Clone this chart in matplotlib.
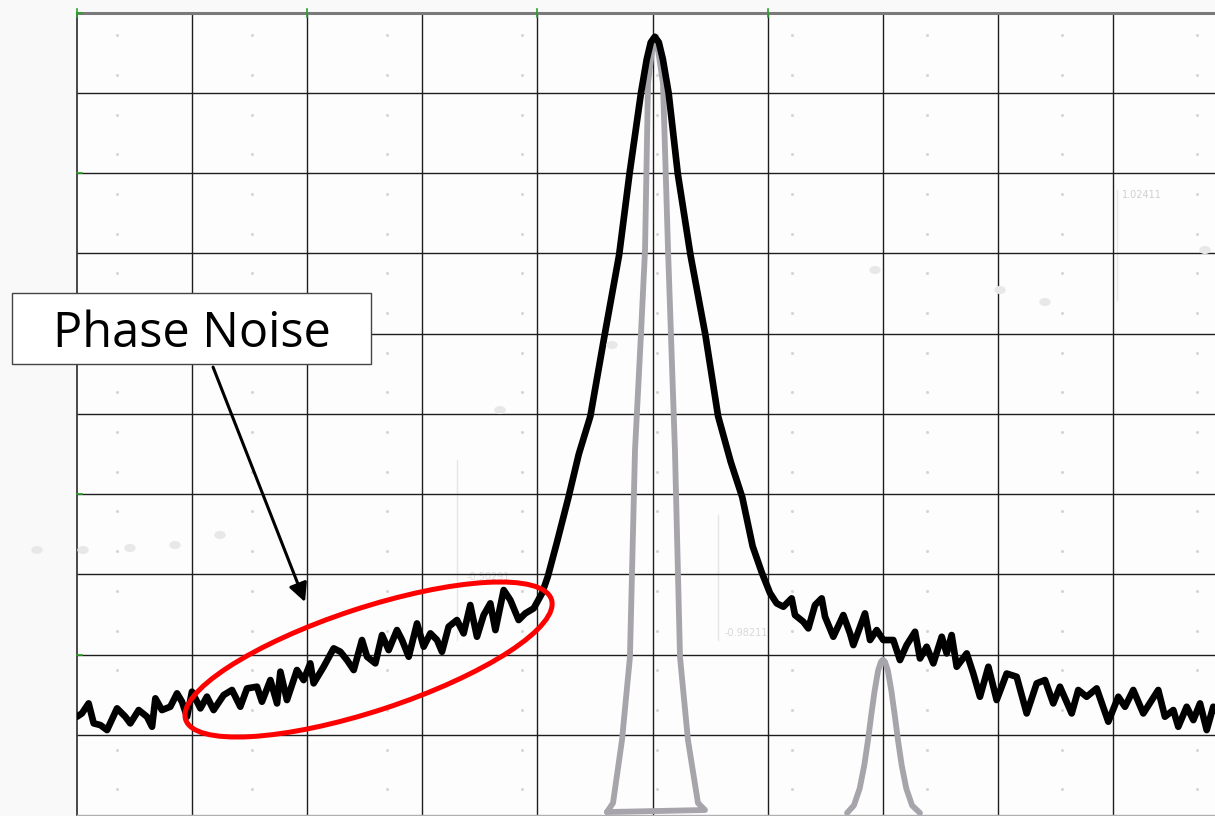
import matplotlib.pyplot as plt
from matplotlib.patches import Ellipse, Rectangle
from matplotlib import transforms
import numpy as np

# Units are screen divisions: x 0..~9.9 across, y 0..10 from bottom to top

# Black trace: carrier with phase-noise skirts
trace_x = [0.000, 0.043, 0.101, 0.145, 0.203, 0.261, 0.348, 0.420, 0.463, 0.536,
           0.608, 0.652, 0.681, 0.738, 0.811, 0.869, 0.912, 0.956, 0.999, 1.072,
           1.129, 1.187, 1.274, 1.347, 1.419, 1.477, 1.564, 1.607, 1.680, 1.738,
           1.767, 1.824, 1.911, 1.969, 2.027, 2.056, 2.143, 2.230, 2.288, 2.346,
           2.404, 2.476, 2.520, 2.592, 2.650, 2.708, 2.780, 2.824, 2.882, 2.954,
           3.012, 3.070, 3.128, 3.171, 3.229, 3.301, 3.359, 3.417, 3.475, 3.533,
           3.591, 3.635, 3.707, 3.765, 3.837, 3.895, 3.968, 4.040,
           4.09, 4.17, 4.27, 4.36, 4.46, 4.58, 4.71, 4.80, 4.90, 4.95, 4.985, 5.02,
           5.055, 5.09, 5.14, 5.22, 5.33, 5.46, 5.57, 5.68, 5.78, 5.87, 5.95,
           6.021, 6.079, 6.137, 6.209, 6.238, 6.310, 6.354, 6.412, 6.470, 6.499,
           6.571, 6.658, 6.716, 6.745, 6.846, 6.890, 6.948, 7.005, 7.092, 7.150,
           7.208, 7.281, 7.324, 7.382, 7.440, 7.513, 7.556, 7.599, 7.643, 7.730,
           7.787, 7.845, 7.918, 7.990, 8.077, 8.164, 8.251, 8.338, 8.410, 8.482,
           8.540, 8.642, 8.699, 8.772, 8.859, 8.960, 9.047, 9.105, 9.177, 9.264,
           9.394, 9.452, 9.525, 9.568, 9.641, 9.699, 9.757, 9.815, 9.872, 9.890]
trace_y = [1.225, 1.267, 1.391, 1.142, 1.121, 1.059, 1.329, 1.225, 1.142, 1.308,
           1.225, 1.100, 1.454, 1.308, 1.350, 1.516, 1.412, 1.225, 1.537, 1.329,
           1.475, 1.308, 1.495, 1.558, 1.350, 1.578, 1.599, 1.412, 1.682, 1.391,
           1.786, 1.433, 1.807, 1.682, 1.890, 1.641, 1.848, 2.077, 2.035, 1.931,
           1.807, 2.181, 1.973, 1.890, 2.243, 2.056, 2.305, 2.181, 1.973, 2.388,
           2.098, 2.264, 2.181, 2.035, 2.347, 2.430, 2.264, 2.617, 2.222, 2.492,
           2.638, 2.305, 2.804, 2.679, 2.430, 2.513, 2.576, 2.763,
           2.97, 3.40, 3.96, 4.50, 4.97, 5.95, 6.98, 7.99, 9.00, 9.42, 9.63, 9.70,
           9.63, 9.42, 9.00, 7.99, 6.98, 5.98, 4.97, 4.40, 3.96, 3.35, 3.02,
           2.766, 2.638, 2.596, 2.700, 2.492, 2.409, 2.326, 2.617, 2.700, 2.471,
           2.222, 2.492, 2.264, 2.118, 2.513, 2.181, 2.305, 2.181, 2.181, 1.931,
           2.118, 2.284, 1.951, 2.097, 1.890, 2.222, 2.014, 2.243, 1.848, 2.014,
           1.763, 1.474, 1.848, 1.433, 1.763, 1.723, 1.266, 1.641, 1.682, 1.391,
           1.599, 1.266, 1.558, 1.474, 1.578, 1.163, 1.474, 1.349, 1.558, 1.266,
           1.558, 1.225, 1.308, 1.100, 1.349, 1.183, 1.391, 1.059, 1.349, 1.300]

# Grey trace: clean carrier
carrier_x = [4.605, 4.657, 4.735, 4.804, 4.848, 4.900, 4.935, 4.961, 4.995, 5.022,
             5.050, 5.091, 5.115, 5.135, 5.195, 5.239, 5.308, 5.395, 5.456, 4.605]
carrier_y = [0.037, 0.150, 0.935, 1.969, 4.548, 6.000, 7.040, 9.122, 9.520, 9.632,
             9.520, 9.122, 8.000, 7.040, 4.548, 1.969, 0.935, 0.150, 0.062, 0.037]

# Grey trace: small spur
spur_x = [6.690, 6.750, 6.800, 6.840, 6.872, 6.900, 6.930, 6.960, 6.985, 7.002,
          7.020, 7.045, 7.075, 7.105, 7.133, 7.165, 7.205, 7.255, 7.324]
spur_y = [0.025, 0.120, 0.330, 0.620, 0.930, 1.240, 1.550, 1.800, 1.910, 1.935,
          1.910, 1.800, 1.550, 1.240, 0.930, 0.620, 0.330, 0.120, 0.025]

# Callout
label = "Phase Noise"
label_pos = (0.996, 5.836)
arrow_start = (1.182, 5.583)
arrow_tip = (1.981, 2.654)
ring_center = (2.533, 1.938)

W, H = 1215, 816
x_max = (W - 77) / 115.1

fig = plt.figure(figsize=(W / 100, H / 100), dpi=100)
fig.patch.set_facecolor("#f9f9f9")
ax = fig.add_axes([77 / W, 1 / H, 1 - 77 / W, (816 - 12.7) / H - 1 / H])
ax.set_facecolor("#fdfdfd")
ax.set_xlim(0, x_max)
ax.set_ylim(0, 10)

# faint leftovers of the instrument screen underneath
dot_x = (117 + 135 * np.arange(9) - 77) / 115.1
dot_y = (815 - (35 + 39.7 * np.arange(20))) / 80.25
gx, gy = np.meshgrid(dot_x, dot_y)
ax.scatter(gx.ravel(), gy.ravel(), s=5, color="#d6d6d6", linewidths=0, zorder=0)
blobs = [(37, 550), (83, 550), (130, 548), (175, 545), (220, 535), (500, 410),
         (612, 345), (875, 270), (1000, 290), (1045, 302), (1205, 250)]
for bx, by in blobs:
    fig.patches.append(plt.Circle((bx / W, 1 - by / H), 5 / W, transform=fig.transFigure,
                                  color="#e8e8e8", zorder=0))
ax.text((1122 - 77) / 115.1, (815 - 195) / 80.25, "1.02411", fontsize=7,
        color="#d0d0d0", va="center", zorder=0)
ax.text((725 - 77) / 115.1, (815 - 633) / 80.25, "-0.98211", fontsize=7,
        color="#d8d8d8", va="center", zorder=0)
ax.text((467 - 77) / 115.1, (815 - 577) / 80.25, "-0.50291", fontsize=7,
        color="#dedede", va="center", zorder=0)
for vx, y0, y1 in [(1117, 190, 300), (718, 515, 640), (457, 460, 640)]:
    ax.plot([(vx - 77) / 115.1] * 2, [(815 - y0) / 80.25, (815 - y1) / 80.25],
            color="#e6e6e6", lw=1, zorder=0)

# grid
for i in range(1, 10):
    ax.axvline(i, color="#1e1e1e", lw=1.0, zorder=1)
    ax.axhline(i, color="#1e1e1e", lw=1.0, zorder=1)
ax.spines["left"].set_color("#3a3a3a")
ax.spines["left"].set_linewidth(1.3)
ax.spines["top"].set_color("#7a7a7a")
ax.spines["top"].set_linewidth(2.2)
ax.spines["bottom"].set_color("#b0b0b0")
ax.spines["bottom"].set_linewidth(1.0)
ax.spines["right"].set_visible(False)
ax.set_xticks([])
ax.set_yticks([])

# small green markers on the border
for gxm in [0, 2, 4, 6]:
    ax.plot([gxm, gxm], [9.95, 10.04], color="#2ca02c", lw=1.2, clip_on=False, zorder=4)
for gym in [10, 8, 4, 2]:
    ax.plot([0, 0.04], [gym, gym], color="#2ca02c", lw=1.2, clip_on=False, zorder=4)

ax.plot(carrier_x, carrier_y, color="#a7a5ab", lw=4.2, solid_joinstyle="round",
        solid_capstyle="round", zorder=2, clip_on=False)
ax.plot(spur_x, spur_y, color="#a7a5ab", lw=4.2, solid_joinstyle="round",
        solid_capstyle="round", zorder=2, clip_on=False)
ax.plot(trace_x, trace_y, color="black", lw=4.8, solid_joinstyle="round",
        solid_capstyle="round", zorder=3)

# red ring around the noise skirt (size in inches so it is not sheared)
ring_tr = fig.dpi_scale_trans + transforms.ScaledTranslation(*ring_center, ax.transData)
ax.add_patch(Ellipse((0, 0), 3.85, 1.03, angle=18.2, transform=ring_tr,
                     fill=False, edgecolor="#ff0000", lw=3.6, zorder=5, clip_on=False))

# callout box + arrow
ax.add_patch(Rectangle(((12 - 77) / 115.1, (815 - 364) / 80.25),
                       (371 - 12) / 115.1, (364 - 293) / 80.25,
                       facecolor="white", edgecolor="#444444", lw=1.0,
                       zorder=6, clip_on=False))
ax.text(label_pos[0], label_pos[1], label, fontsize=35, family="Open Sans",
        ha="center", va="baseline", color="black", zorder=7, clip_on=False)
ax.annotate("", xy=arrow_tip, xytext=arrow_start,
            arrowprops=dict(arrowstyle="-|>", color="black", lw=2.2,
                            mutation_scale=28, shrinkA=0, shrinkB=0),
            zorder=6, annotation_clip=False)

fig.savefig("out.png", dpi=100, facecolor=fig.get_facecolor())
